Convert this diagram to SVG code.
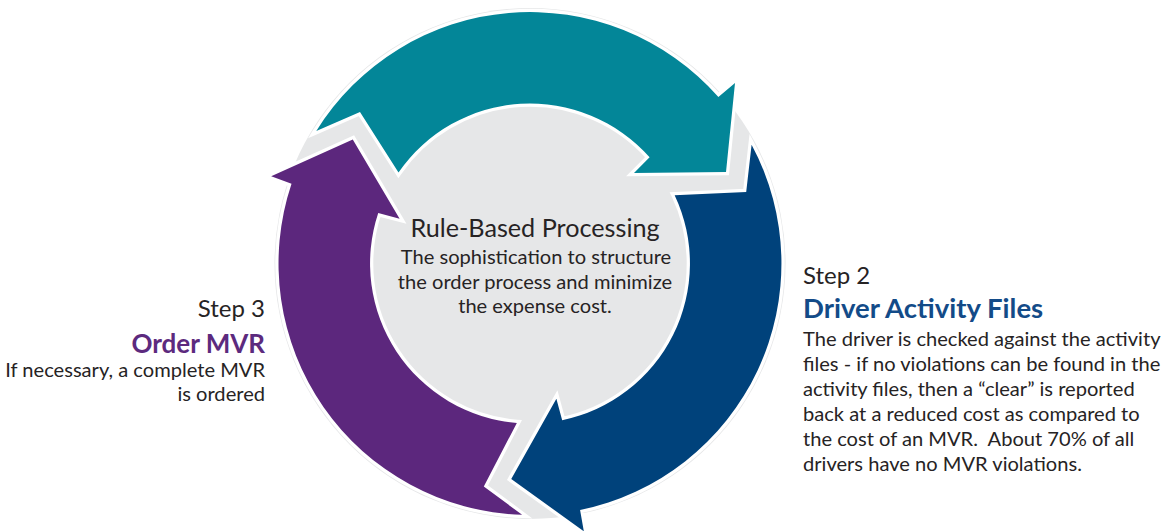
<svg xmlns="http://www.w3.org/2000/svg" width="1164" height="531" viewBox="0 0 1164 531">
  <style>
    .arrow { stroke: #ffffff; stroke-width: 6.5; stroke-linejoin: miter; paint-order: stroke; }
    .t { font-family: "Source Sans Pro", "Lato", "Liberation Sans", sans-serif; fill: #262324; }
    .body { font-size: 20.1px; }
    .step { font-size: 24px; }
    .head { font-size: 27.5px; font-weight: bold; }
  </style>
  <defs>
    <path id="arrowShape" d="M316.3,131 A251.5,251.5 0 0 1 718.4,96.9 L735,83 L726,172 L634,173 L649.6,157.3 A160,160 0 0 0 398.5,172.4 L360,112 Z"/>
  </defs>
  <rect width="1164" height="531" fill="#ffffff"/>
  <g id="ring">
    <circle cx="530" cy="263.5" r="255.5" fill="#e6e7e8"/>
  </g>
  <g id="connectors">
    <g id="arrow-teal">
      <use href="#arrowShape" class="arrow" fill="#038698"/>
    </g>
    <g id="arrow-blue">
      <use href="#arrowShape" class="arrow" fill="#00427b" transform="rotate(120 530 263.5)"/>
    </g>
    <g id="arrow-purple">
      <use href="#arrowShape" class="arrow" fill="#5c277d" transform="rotate(240 530 263.5)"/>
    </g>
  </g>
  <g id="center-node" class="t" text-anchor="middle">
    <text x="535" y="237" font-size="25.2">Rule-Based Processing</text>
    <text class="body" x="536" y="264">The sophistication to structure</text>
    <text class="body" x="535" y="288.5">the order process and minimize</text>
    <text class="body" x="535" y="313">the expense cost.</text>
  </g>
  <g id="step2" class="t">
    <text class="step" x="803" y="284">Step 2</text>
    <text class="head" x="803" y="318" style="fill:#134b88">Driver Activity Files</text>
    <text class="body" x="803" y="346">The driver is checked against the activity</text>
    <text class="body" x="803" y="371">files - if no violations can be found in the</text>
    <text class="body" x="803" y="396">activity files, then a “clear” is reported</text>
    <text class="body" x="803" y="421">back at a reduced cost as compared to</text>
    <text class="body" x="803" y="446">the cost of an MVR.&#160; About 70% of all</text>
    <text class="body" x="803" y="471">drivers have no MVR violations.</text>
  </g>
  <g id="step3" class="t" text-anchor="end">
    <text class="step" x="265" y="317">Step 3</text>
    <text class="head" x="265" y="353" style="fill:#5c2a7e;font-size:26px">Order MVR</text>
    <text class="body" x="265" y="377">If necessary, a complete MVR</text>
    <text class="body" x="265" y="401">is ordered</text>
  </g>
</svg>
